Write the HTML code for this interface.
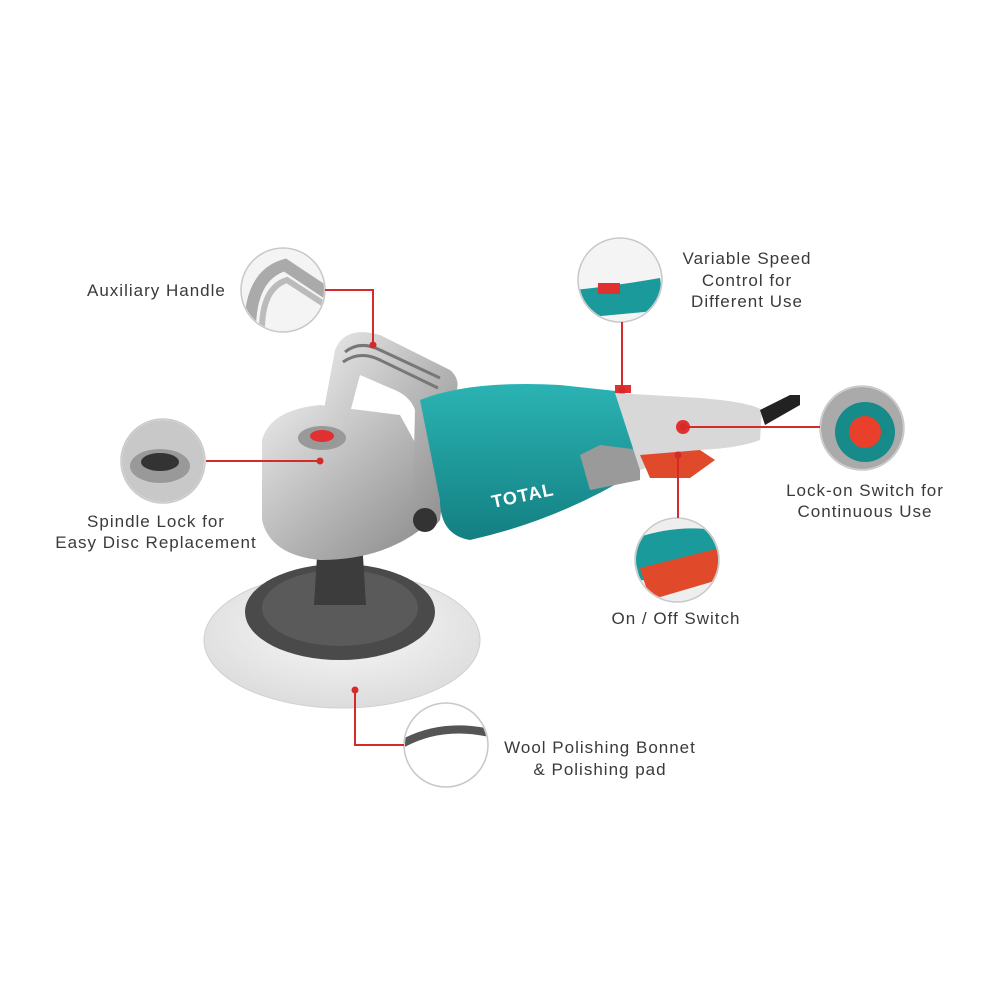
<!DOCTYPE html>
<html><head><meta charset="utf-8"><style>
html,body{margin:0;padding:0;background:#fff;}
svg{display:block}
text{font-family:"Liberation Sans",sans-serif;font-size:17px;fill:#3a3a3a;letter-spacing:1px}
</style></head><body>
<svg width="1000" height="1000" viewBox="0 0 1000 1000" xmlns="http://www.w3.org/2000/svg">
<defs>
<radialGradient id="wool" cx="50%" cy="40%" r="60%"><stop offset="0" stop-color="#fafafa"/><stop offset="1" stop-color="#dcdcdc"/></radialGradient>
<linearGradient id="silver" x1="0" y1="0" x2="1" y2="1"><stop offset="0" stop-color="#e8e8e8"/><stop offset="0.5" stop-color="#b8b8b8"/><stop offset="1" stop-color="#8a8a8a"/></linearGradient>
<linearGradient id="teal" x1="0" y1="0" x2="0" y2="1"><stop offset="0" stop-color="#2bb3b3"/><stop offset="1" stop-color="#137f82"/></linearGradient>
<clipPath id="c1"><circle cx="283" cy="290" r="41"/></clipPath>
<clipPath id="c2"><circle cx="620" cy="280" r="41"/></clipPath>
<clipPath id="c3"><circle cx="862" cy="428" r="41"/></clipPath>
<clipPath id="c4"><circle cx="163" cy="461" r="41"/></clipPath>
<clipPath id="c5"><circle cx="677" cy="560" r="41"/></clipPath>
<clipPath id="c6"><circle cx="446" cy="745" r="41"/></clipPath>
</defs>

<!-- wool pad -->
<ellipse cx="342" cy="640" rx="138" ry="68" fill="url(#wool)" stroke="#d0d0d0"/>
<ellipse cx="340" cy="612" rx="95" ry="48" fill="#4a4a4a"/>
<ellipse cx="340" cy="608" rx="78" ry="38" fill="#5a5a5a"/>
<path d="M318 540 L362 540 L366 605 L314 605 Z" fill="#3c3c3c"/>
<!-- head -->
<path d="M262 440 Q270 410 320 405 L400 415 L430 470 L420 530 Q380 560 320 560 Q270 555 262 520 Z" fill="url(#silver)"/>
<ellipse cx="322" cy="438" rx="24" ry="12" fill="#999"/>
<ellipse cx="322" cy="436" rx="12" ry="6" fill="#e03030"/>
<!-- aux handle -->
<path d="M322 420 L335 350 Q345 325 380 335 L450 370 Q462 380 455 395 L440 520 Q430 535 412 525 L415 410 Q410 395 390 388 L360 375 L348 420 Z" fill="url(#silver)"/>
<path d="M345 352 Q360 340 380 350 L440 378" stroke="#777" stroke-width="3" fill="none"/>
<path d="M343 362 Q360 350 380 360 L438 388" stroke="#777" stroke-width="3" fill="none"/>
<ellipse cx="425" cy="520" rx="12" ry="12" fill="#333"/>
<!-- body -->
<path d="M420 400 Q470 380 560 385 L625 392 L640 470 Q560 520 470 540 Q440 535 440 500 Z" fill="url(#teal)"/>
<path d="M580 455 L600 445 L640 450 L640 480 L590 490 Z" fill="#9a9a9a"/>
<text x="493" y="508" style="font-size:18px;font-weight:bold;fill:#fff" transform="rotate(-12 493 508)">TOTAL</text>
<!-- rear handle -->
<path d="M615 393 L700 398 Q750 402 762 410 L760 440 Q740 448 700 450 L640 470 Z" fill="#d8d8d8"/>
<path d="M640 455 L700 450 L715 460 L690 478 L650 478 Z" fill="#e04a2a"/>
<ellipse cx="683" cy="427" rx="7" ry="7" fill="#e03030"/>
<path d="M760 410 L790 395 L800 395 L800 405 L765 425 Z" fill="#222"/>
<rect x="615" y="385" width="16" height="8" fill="#e03030"/>

<!-- callout circles -->
<g fill="#f4f4f4">
<circle cx="283" cy="290" r="42"/>
<circle cx="620" cy="280" r="42"/>
<circle cx="862" cy="428" r="42"/>
<circle cx="163" cy="461" r="42"/>
<circle cx="677" cy="560" r="42"/>
<circle cx="446" cy="745" r="42"/>
</g>
<!-- circle contents -->
<g clip-path="url(#c1)"><path d="M250 330 Q250 275 285 265 L330 295" stroke="#aaa" stroke-width="12" fill="none"/><path d="M262 330 Q262 288 287 280 L330 308" stroke="#bbb" stroke-width="6" fill="none"/></g>
<g clip-path="url(#c2)"><path d="M575 290 Q620 285 660 278 L665 310 L580 318 Z" fill="#1a9a9a"/><rect x="598" y="283" width="22" height="11" fill="#e03030"/></g>
<g clip-path="url(#c3)"><rect x="820" y="386" width="84" height="84" fill="#aaa"/><circle cx="865" cy="432" r="30" fill="#178a8a"/><circle cx="865" cy="432" r="16" fill="#e8402a"/></g>
<g clip-path="url(#c4)"><rect x="120" y="419" width="84" height="84" fill="#c8c8c8"/><ellipse cx="160" cy="466" rx="30" ry="17" fill="#999"/><ellipse cx="160" cy="462" rx="19" ry="9" fill="#333"/></g>
<g clip-path="url(#c5)"><rect x="635" y="518" width="84" height="84" fill="#eee"/><path d="M630 540 Q680 522 725 532 L725 570 Q690 585 640 580 Z" fill="#1a9a9a"/><path d="M640 568 L720 548 L725 578 L650 600 Z" fill="#e04a2a"/></g>
<g clip-path="url(#c6)"><rect x="404" y="703" width="84" height="84" fill="#fff"/><path d="M400 745 Q440 722 490 733" stroke="#555" stroke-width="8" fill="none"/></g>
<g fill="none" stroke="#c8c8c8" stroke-width="1.5">
<circle cx="283" cy="290" r="42"/>
<circle cx="620" cy="280" r="42"/>
<circle cx="862" cy="428" r="42"/>
<circle cx="163" cy="461" r="42"/>
<circle cx="677" cy="560" r="42"/>
<circle cx="446" cy="745" r="42"/>
</g>

<!-- connectors -->
<g stroke="#d42a2a" stroke-width="2" fill="none">
<polyline points="325,290 373,290 373,345"/>
<line x1="622" y1="322" x2="622" y2="390"/>
<line x1="820" y1="427" x2="683" y2="427"/>
<line x1="206" y1="461" x2="320" y2="461"/>
<line x1="678" y1="518" x2="678" y2="455"/>
<polyline points="404,745 355,745 355,690"/>
</g>
<g fill="#d42a2a">
<circle cx="373" cy="345" r="3.5"/><circle cx="622" cy="390" r="3.5"/><circle cx="683" cy="427" r="3.5"/>
<circle cx="320" cy="461" r="3.5"/><circle cx="678" cy="455" r="3.5"/><circle cx="355" cy="690" r="3.5"/>
</g>

<!-- labels -->
<text x="87" y="296">Auxiliary Handle</text>
<g text-anchor="middle">
<text x="747" y="264">Variable Speed</text>
<text x="747" y="286">Control for</text>
<text x="747" y="307">Different Use</text>
<text x="865" y="496">Lock-on Switch for</text>
<text x="865" y="517">Continuous Use</text>
<text x="156" y="527">Spindle Lock for</text>
<text x="156" y="548">Easy Disc Replacement</text>
<text x="676" y="624">On / Off Switch</text>
<text x="600" y="753">Wool Polishing Bonnet</text>
<text x="600" y="775">&amp; Polishing pad</text>
</g>
</svg>
</body></html>
